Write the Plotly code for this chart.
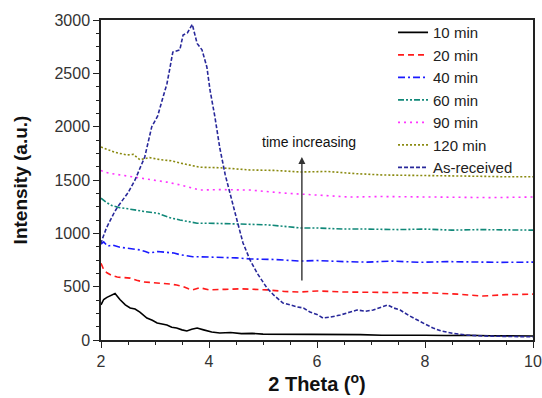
import plotly.graph_objects as go

# ---- data ----
x_10 = [2.0, 2.05, 2.11, 2.18, 2.26, 2.35, 2.45, 2.54, 2.63, 2.72, 2.85, 2.95, 3.04, 3.13, 3.22, 3.31, 3.4, 3.5, 3.59, 3.68, 3.78, 3.9, 4.05, 4.2, 4.4, 4.6, 4.8, 5.0, 5.3, 5.6, 6.0, 6.4, 6.8, 7.2, 7.6, 8.0, 8.4, 8.8, 9.2, 9.6, 10.0]
y_10 = [330, 380, 400, 420, 435, 380, 330, 300, 290, 262, 206, 185, 160, 150, 140, 120, 112, 95, 85, 100, 112, 95, 75, 65, 70, 60, 62, 55, 55, 52, 50, 48, 50, 45, 48, 45, 42, 45, 40, 42, 38]

x_20 = [2.0, 2.05, 2.11, 2.2, 2.3, 2.42, 2.54, 2.66, 2.78, 2.9, 3.04, 3.16, 3.28, 3.4, 3.52, 3.62, 3.7, 3.83, 4.0, 4.3, 4.6, 5.07, 5.4, 5.69, 6.0, 6.5, 6.93, 7.5, 8.15, 8.6, 9.07, 9.5, 10.0]
y_20 = [720, 660, 630, 605, 590, 585, 580, 560, 545, 540, 535, 530, 525, 515, 500, 480, 470, 490, 470, 475, 480, 470, 455, 450, 460, 450, 450, 445, 440, 430, 412, 425, 430]

x_40 = [2.0, 2.05, 2.12, 2.22, 2.35, 2.48, 2.6, 2.72, 2.82, 2.9, 3.05, 3.22, 3.35, 3.46, 3.6, 3.7, 3.83, 4.2, 4.5, 4.76, 5.2, 5.69, 6.0, 6.5, 6.93, 7.4, 7.9, 8.4, 8.78, 9.4, 10.0]
y_40 = [900, 920, 880, 890, 870, 860, 855, 845, 830, 815, 830, 825, 815, 800, 790, 780, 780, 775, 770, 760, 755, 740, 745, 735, 730, 740, 728, 735, 730, 728, 730]

x_60 = [2.0, 2.1, 2.2, 2.35, 2.5, 2.6, 2.8, 3.04, 3.25, 3.46, 3.6, 3.78, 4.0, 4.4, 4.8, 5.07, 5.4, 5.69, 6.0, 6.5, 6.93, 7.5, 8.0, 8.5, 9.0, 9.5, 10.0]
y_60 = [1330, 1290, 1260, 1240, 1230, 1220, 1205, 1190, 1150, 1125, 1110, 1095, 1095, 1090, 1085, 1080, 1065, 1050, 1050, 1040, 1040, 1035, 1040, 1030, 1035, 1030, 1030]

x_90 = [2.0, 2.05, 2.2, 2.4, 2.6, 2.9, 3.22, 3.5, 3.83, 4.2, 4.76, 5.37, 6.0, 6.61, 7.2, 7.8, 8.46, 9.2, 9.94, 10.0]
y_90 = [1590, 1575, 1560, 1545, 1530, 1505, 1480, 1450, 1406, 1410, 1406, 1378, 1360, 1340, 1345, 1340, 1340, 1335, 1340, 1340]

x_120 = [2.0, 2.1, 2.25, 2.48, 2.6, 2.72, 2.9, 3.1, 3.3, 3.46, 3.65, 3.83, 4.2, 4.76, 5.2, 5.69, 6.2, 6.7, 7.22, 7.8, 8.4, 9.0, 9.5, 9.94, 10.0]
y_120 = [1810, 1790, 1760, 1735, 1740, 1690, 1710, 1690, 1680, 1660, 1640, 1620, 1615, 1594, 1590, 1575, 1580, 1560, 1547, 1545, 1540, 1535, 1530, 1530, 1530]

x_asr = [2.0, 2.02, 2.1, 2.17, 2.25, 2.31, 2.4, 2.5, 2.63, 2.72, 2.81, 2.94, 3.05, 3.15, 3.22, 3.28, 3.33, 3.46, 3.52, 3.6, 3.69, 3.78, 3.87, 3.96, 4.02, 4.11, 4.2, 4.3, 4.43, 4.53, 4.63, 4.76, 4.9, 5.07, 5.2, 5.37, 5.5, 5.63, 5.75, 5.87, 6.0, 6.11, 6.25, 6.43, 6.6, 6.74, 6.9, 7.04, 7.2, 7.31, 7.42, 7.54, 7.7, 7.85, 8.0, 8.15, 8.3, 8.52, 8.8, 9.07, 9.5, 10.0]
y_asr = [900, 940, 1050, 1125, 1200, 1250, 1310, 1380, 1500, 1600, 1716, 2000, 2100, 2280, 2400, 2560, 2700, 2720, 2860, 2880, 2960, 2780, 2720, 2560, 2340, 2090, 1800, 1550, 1310, 1100, 910, 750, 620, 490, 420, 347, 330, 310, 300, 262, 240, 206, 215, 234, 260, 281, 270, 281, 310, 328, 300, 281, 230, 187, 150, 112, 85, 62, 45, 37, 33, 30]

names = ["10 min", "20 min", "40 min", "60 min", "90 min", "120 min", "As-received"]
xs = [x_10, x_20, x_40, x_60, x_90, x_120, x_asr]
ys = [y_10, y_20, y_40, y_60, y_90, y_120, y_asr]
colors = ["#000000", "#ff1a1a", "#1a1aff", "#108878", "#ff33ff", "#8a8a10", "#28289a"]
dashes = ["solid", "6px,4px", "7px,3px,2px,3px", "6px,2px,2px,2px,2px,2px", "2px,4px", "2px,2px", "4px,2px"]

x_ticks = [2, 4, 6, 8, 10]
y_ticks = [0, 500, 1000, 1500, 2000, 2500, 3000]

fig = go.Figure()
for n, xv, yv, c, d in zip(names, xs, ys, colors, dashes):
    fig.add_trace(go.Scatter(x=xv, y=yv, name=n, mode="lines",
                             line=dict(color=c, width=1.6, dash=d)))

axis_common = dict(showline=True, linecolor="#222", linewidth=1.5, mirror=True,
                   ticks="outside", ticklen=6, tickwidth=1.2, tickcolor="#222",
                   showgrid=False, zeroline=False, automargin=False,
                   tickfont=dict(family="Liberation Sans, Arial", size=16, color="#333"))

fig.update_layout(
    width=542, height=398,
    margin=dict(l=101, r=9, t=20, b=58),
    plot_bgcolor="white", paper_bgcolor="white",
    xaxis=dict(range=[2, 10], tickvals=x_ticks, **axis_common,
               minor=dict(dtick=0.5, ticks="outside", ticklen=3, tickcolor="#222"),
               title=dict(text="2 Theta (<sup>o</sup>)", standoff=8,
                          font=dict(family="Liberation Sans, Arial", size=20, color="#111", weight="bold"))),
    yaxis=dict(range=[0, 3000], tickvals=y_ticks, **axis_common,
               minor=dict(dtick=125, ticks="outside", ticklen=3, tickcolor="#222"),
               title=dict(text="Intensity (a.u.)", standoff=22,
                          font=dict(family="Liberation Sans, Arial", size=19, color="#111", weight="bold"))),
    legend=dict(x=0.676, y=1.012, xanchor="left", yanchor="top", bgcolor="rgba(0,0,0,0)",
                font=dict(family="Liberation Sans, Arial", size=15, color="#222"),
                tracegroupgap=0),
    showlegend=True,
)

fig.add_annotation(x=5.72, y=1716, ax=5.72, ay=544, xref="x", yref="y", axref="x", ayref="y",
                   showarrow=True, arrowhead=2, arrowsize=1, arrowwidth=1.4, arrowcolor="#333", text="")
fig.add_annotation(x=5.85, y=1860, xref="x", yref="y", text="time increasing", showarrow=False,
                   font=dict(family="Liberation Sans, Arial", size=14, color="#111"))

fig.write_html("out.html")
